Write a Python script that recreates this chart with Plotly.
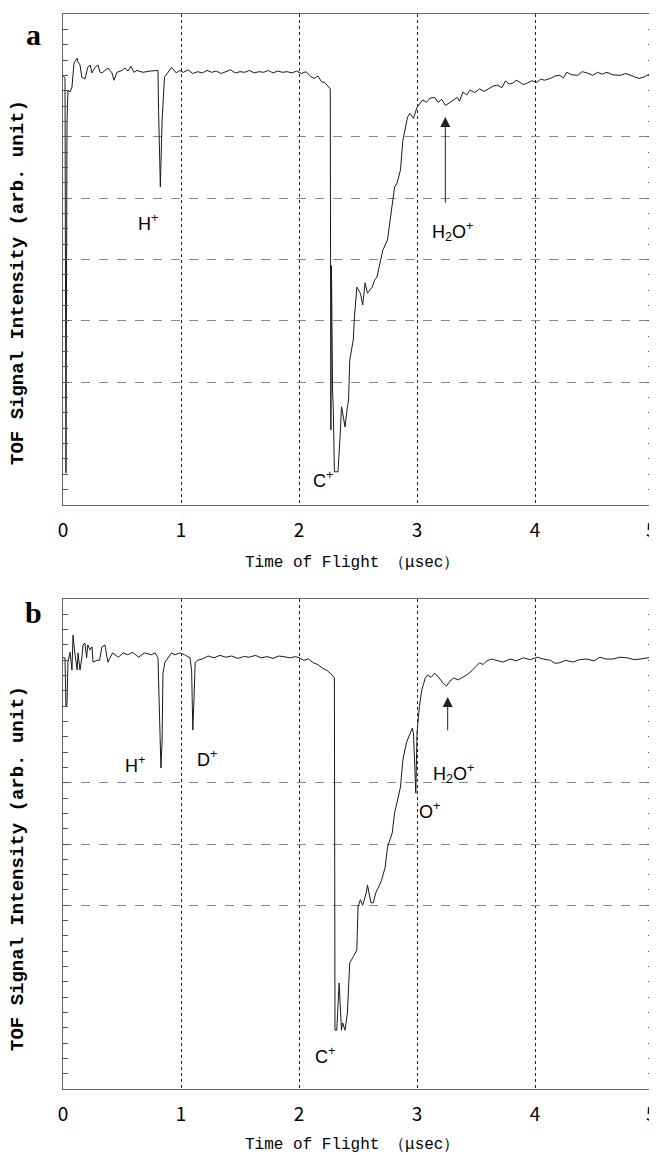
import plotly.graph_objects as go

# panel a: time of flight (usec) and signal (arb. unit, 0-8 scale)
tof_a = [0.0, 0.017, 0.025, 0.034, 0.042, 0.06, 0.076, 0.093, 0.12, 0.127, 0.144, 0.16, 0.186,
         0.21, 0.23, 0.246, 0.271, 0.296, 0.314, 0.331, 0.356, 0.381, 0.415, 0.432, 0.458,
         0.5, 0.525, 0.551, 0.576, 0.6, 0.627, 0.678, 0.737, 0.78, 0.805, 0.81, 0.825, 0.84,
         0.85, 0.86, 0.89, 0.92, 0.96, 0.99, 1.02, 1.06, 1.10, 1.14, 1.18, 1.22, 1.26, 1.30,
         1.34, 1.38, 1.42, 1.46, 1.50, 1.54, 1.58, 1.62, 1.66, 1.70, 1.74, 1.78, 1.82, 1.86,
         1.90, 1.94, 1.98, 2.02, 2.06, 2.10, 2.13, 2.16, 2.19, 2.22, 2.25, 2.265, 2.27, 2.275,
         2.285, 2.29, 2.30, 2.33, 2.35, 2.36, 2.37, 2.39, 2.41, 2.42, 2.43, 2.46, 2.47, 2.49,
         2.52, 2.54, 2.56, 2.58, 2.62, 2.64, 2.66, 2.69, 2.71, 2.75, 2.76, 2.79, 2.81, 2.83,
         2.86, 2.88, 2.92, 2.94, 2.97, 3.00, 3.03, 3.05, 3.08, 3.11, 3.15, 3.18, 3.21, 3.24,
         3.28, 3.31, 3.34, 3.36, 3.39, 3.42, 3.45, 3.49, 3.53, 3.57, 3.62, 3.65, 3.68, 3.72,
         3.75, 3.78, 3.81, 3.84, 3.87, 3.90, 3.93, 3.97, 4.02, 4.05, 4.08, 4.13, 4.17, 4.21,
         4.24, 4.27, 4.31, 4.36, 4.40, 4.44, 4.49, 4.53, 4.57, 4.61, 4.66, 4.72, 4.77, 4.83,
         4.88, 4.92, 4.96, 5.0]
signal_a = [7.0, 6.95, 0.52, 6.24, 6.76, 6.73, 6.81, 7.2, 7.28, 7.22, 7.17, 6.97, 6.94,
            7.13, 7.17, 7.04, 7.13, 7.17, 7.05, 7.04, 7.08, 7.12, 7.04, 6.92, 7.05,
            7.08, 7.12, 7.07, 7.15, 7.05, 7.08, 7.05, 7.07, 7.07, 7.08, 6.43, 5.18, 6.27,
            6.76, 6.97, 7.05, 7.13, 7.04, 7.08, 7.05, 7.09, 7.03, 7.06, 7.04, 7.08, 7.05, 7.07,
            7.03, 7.06, 7.09, 7.04, 7.06, 7.05, 7.08, 7.04, 7.06, 7.05, 7.08, 7.04, 7.07, 7.05,
            7.06, 7.04, 7.07, 7.03, 7.06, 6.98, 6.95, 6.99, 6.90, 6.88, 6.82, 6.78, 1.22, 3.9,
            1.8, 1.62, 0.54, 0.54, 1.17, 1.60, 1.50, 1.27, 1.60, 1.71, 2.36, 2.69, 3.06, 3.55,
            3.45, 3.26, 3.62, 3.45, 3.55, 3.66, 3.71, 3.99, 4.15, 4.32, 4.48, 4.92, 5.18, 5.24,
            5.46, 5.94, 6.32, 6.38, 6.30, 6.48, 6.55, 6.60, 6.56, 6.63, 6.64, 6.56, 6.61, 6.51,
            6.56, 6.60, 6.64, 6.58, 6.73, 6.68, 6.76, 6.72, 6.78, 6.74, 6.79, 6.83, 6.84, 6.80,
            6.91, 6.86, 6.87, 6.92, 6.89, 6.85, 6.87, 6.91, 6.89, 6.94, 6.92, 6.95, 6.99, 7.0,
            6.96, 7.05, 7.01, 7.0, 7.06, 7.04, 7.0, 7.05, 7.02, 7.05, 7.01, 7.0, 7.03, 6.99,
            6.95, 6.97, 7.01, 7.05]

# panel b
tof_b = [0.0, 0.017, 0.025, 0.034, 0.042, 0.06, 0.076, 0.085, 0.10, 0.12, 0.127, 0.144,
         0.16, 0.17, 0.186, 0.20, 0.21, 0.23, 0.246, 0.254, 0.29, 0.31, 0.33, 0.356, 0.38,
         0.42, 0.47, 0.51, 0.55, 0.59, 0.64, 0.69, 0.75, 0.78, 0.805, 0.81, 0.822, 0.83,
         0.84, 0.847, 0.864, 0.89, 0.92, 0.95, 0.99, 1.03, 1.076, 1.09, 1.10, 1.11, 1.12,
         1.14, 1.18, 1.23, 1.28, 1.33, 1.38, 1.43, 1.48, 1.53, 1.58, 1.63, 1.68, 1.73, 1.78,
         1.83, 1.88, 1.93, 1.97, 2.0, 2.04, 2.08, 2.12, 2.16, 2.20, 2.24, 2.28, 2.30, 2.305,
         2.32, 2.34, 2.36, 2.37, 2.39, 2.41, 2.42, 2.43, 2.46, 2.49, 2.50, 2.52, 2.54, 2.57,
         2.58, 2.61, 2.63, 2.65, 2.67, 2.70, 2.73, 2.75, 2.79, 2.81, 2.83, 2.86, 2.88, 2.91,
         2.93, 2.96, 2.97, 2.98, 2.99, 3.0, 3.02, 3.04, 3.07, 3.09, 3.12, 3.15, 3.18, 3.22,
         3.25, 3.28, 3.31, 3.35, 3.39, 3.43, 3.47, 3.50, 3.53, 3.56, 3.59, 3.63, 3.68, 3.73,
         3.79, 3.84, 3.90, 3.96, 4.02, 4.07, 4.13, 4.17, 4.21, 4.26, 4.32, 4.38, 4.44, 4.50,
         4.55, 4.60, 4.66, 4.72, 4.78, 4.84, 4.89, 4.94, 4.99]
signal_b = [7.04, 7.04, 6.24, 6.30, 6.97, 7.13, 6.84, 7.41, 7.12, 6.84, 7.12, 6.84,
            7.05, 7.25, 7.28, 7.04, 7.25, 7.17, 7.22, 6.97, 7.0, 7.0, 7.22, 7.25, 6.97,
            7.12, 7.05, 7.12, 7.09, 7.13, 7.05, 7.12, 7.09, 7.12, 7.04, 6.68, 6.14, 5.24,
            5.7, 6.79, 6.97, 7.05, 7.12, 7.09, 7.12, 7.09, 7.04, 6.84, 5.86, 6.35, 6.96,
            7.0, 7.02, 7.07, 7.04, 7.08, 7.05, 7.07, 7.03, 7.06, 7.05, 7.08, 7.04, 7.06, 7.03,
            7.07, 7.05, 7.04, 7.06, 7.04, 7.0, 7.02, 6.96, 6.93, 6.87, 6.83, 6.76, 6.71, 0.96,
            0.96, 1.73, 0.96, 1.08, 0.96, 1.24, 1.78, 2.06, 2.16, 2.27, 2.97, 3.09, 3.0, 3.2,
            3.33, 3.04, 3.04, 3.2, 3.28, 3.41, 3.62, 3.95, 4.18, 4.51, 4.67, 4.93, 5.37, 5.65,
            5.75, 5.89, 5.81, 5.16, 4.83, 5.81, 6.24, 6.51, 6.71, 6.76, 6.72, 6.79, 6.73, 6.63,
            6.58, 6.66, 6.71, 6.68, 6.73, 6.77, 6.84, 6.90, 6.96, 6.93, 6.99, 7.02, 7.0, 6.97,
            7.02, 6.99, 7.04, 7.01, 7.05, 7.02, 7.0, 6.95, 6.96, 7.0, 6.97, 7.01, 7.02, 6.99,
            7.05, 7.02, 7.02, 7.05, 7.04, 7.01, 7.02, 7.04, 7.05]

x_ticks = [0, 1, 2, 3, 4, 5]
grid_a = [2, 3, 4, 5, 6]
grid_b = [3, 4, 5]

MONO = 'Liberation Mono, DejaVu Sans Mono, monospace'
TICK_FONT = dict(family='Noto Sans CJK SC, Liberation Sans', size=19, color='black')
LABEL_FONT = dict(family='Liberation Sans Narrow, Liberation Sans, Arial', size=18, color='black')


def x_axis(anchor):
    # the last label sits on the page edge and plotly drops it, so it is added as an annotation
    return dict(
        range=[0, 5], tickvals=x_ticks[:-1], ticks='', showgrid=True,
        gridcolor='#222', griddash='dot', gridwidth=1,
        showline=True, linecolor='#666', linewidth=1, mirror=True,
        zeroline=False, anchor=anchor, automargin=False, ticklabeloverflow='allow',
        tickfont=TICK_FONT, ticklabelstandoff=8,
    )


def y_axis(anchor, domain, grid):
    return dict(
        domain=domain, range=[0, 8], tickvals=grid, showticklabels=False,
        ticks='inside', ticklen=6, tickcolor='#555', mirror='allticks',
        showline=True, linecolor='#666', linewidth=1,
        showgrid=True, gridcolor='#888', griddash='dash', gridwidth=1,
        zeroline=False, anchor=anchor, automargin=False,
        minor=dict(ticks='inside', dtick=0.25, ticklen=5, tickcolor='#555', showgrid=False),
    )


fig = go.Figure()
fig.add_trace(go.Scatter(x=tof_a, y=signal_a, mode='lines', xaxis='x', yaxis='y',
                         line=dict(color='#1a1a1a', width=1), showlegend=False))
fig.add_trace(go.Scatter(x=tof_b, y=signal_b, mode='lines', xaxis='x2', yaxis='y2',
                         line=dict(color='#1a1a1a', width=1), showlegend=False))

ann = []
# ion labels
for xr, yr, txt, x, y in [
    ('x', 'y', 'H<sup>+</sup>', 0.72, 4.61),
    ('x', 'y', 'C<sup>+</sup>', 2.2, 0.41),
    ('x', 'y', 'H<sub>2</sub>O<sup>+</sup>', 3.3, 4.45),
    ('x2', 'y2', 'H<sup>+</sup>', 0.61, 5.29),
    ('x2', 'y2', 'D<sup>+</sup>', 1.22, 5.4),
    ('x2', 'y2', 'C<sup>+</sup>', 2.22, 0.55),
    ('x2', 'y2', 'O<sup>+</sup>', 3.11, 4.55),
    ('x2', 'y2', 'H<sub>2</sub>O<sup>+</sup>', 3.31, 5.15),
]:
    ann.append(dict(xref=xr, yref=yr, x=x, y=y, text=txt, showarrow=False, font=LABEL_FONT,
                    xanchor='center', yanchor='middle'))

# last x tick label of each panel
for xr, yr in [('x', 'y domain'), ('x2', 'y2 domain')]:
    ann.append(dict(xref=xr, yref=yr, x=x_ticks[-1], y=0, yanchor='top', yshift=-8, xshift=-2,
                    text=str(x_ticks[-1]), showarrow=False, font=TICK_FONT))

# arrows pointing at the H2O+ dip
ann.append(dict(xref='x', yref='y', x=3.24, y=6.32, axref='x', ayref='y', ax=3.24, ay=4.9,
                text='', showarrow=True, arrowhead=2, arrowsize=2, arrowwidth=1, arrowcolor='#222'))
ann.append(dict(xref='x2', yref='y2', x=3.26, y=6.4, axref='x2', ayref='y2', ax=3.26, ay=5.83,
                text='', showarrow=True, arrowhead=2, arrowsize=2, arrowwidth=1, arrowcolor='#222'))

# panel letters
for ya, letter in [(0.9805, 'a'), (0.4437, 'b')]:
    ann.append(dict(xref='paper', yref='paper', x=-0.0508, y=ya, text=f'<b>{letter}</b>',
                    showarrow=False, xanchor='center', yanchor='middle',
                    font=dict(family='Liberation Serif, Times New Roman', size=30, color='black')))

# axis titles
for ya in [0.7507, 0.2056]:
    ann.append(dict(xref='paper', yref='paper', x=-0.0763, y=ya, textangle=-90, showarrow=False,
                    xanchor='center', yanchor='middle',
                    text='<b>TOF Signal Intensity (arb. unit)</b>',
                    font=dict(family=MONO, size=19, color='black')))
for ya in [0.4893, -0.0521]:
    ann.append(dict(xref='paper', yref='paper', x=0.49, y=ya, showarrow=False,
                    xanchor='center', yanchor='middle',
                    text='Time of Flight （μsec）',
                    font=dict(family=MONO, size=16, color='black')))

# the page body adds an 8px offset, so the figure is sized to fill the rest of the window
fig.update_layout(
    width=649, height=1147,
    margin=dict(l=55, r=4, t=6, b=66, autoexpand=False),
    plot_bgcolor='white', paper_bgcolor='white',
    xaxis=x_axis('y'),
    yaxis=y_axis('x', [0.5433, 1.0], grid_a),
    xaxis2=x_axis('y2'),
    yaxis2=y_axis('x2', [0.0, 0.4558], grid_b),
    annotations=ann,
)

fig.write_html('out.html')
